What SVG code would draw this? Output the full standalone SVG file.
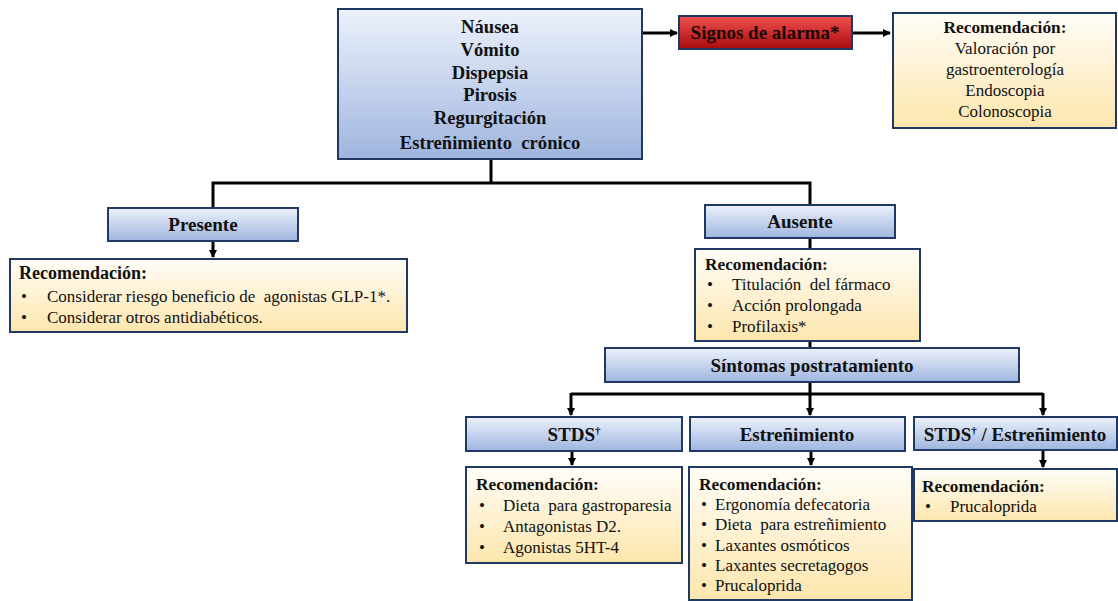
<svg xmlns="http://www.w3.org/2000/svg" width="1118" height="601" viewBox="0 0 1118 601" font-family="'Liberation Serif', 'DejaVu Serif', serif">
<defs>
<linearGradient id="gb" x1="0" y1="0" x2="0" y2="1"><stop offset="0" stop-color="#edf2fb"/><stop offset="1" stop-color="#9fb5df"/></linearGradient>
<linearGradient id="gy" x1="0" y1="0" x2="0" y2="1"><stop offset="0" stop-color="#fffdf8"/><stop offset="1" stop-color="#fde6ad"/></linearGradient>
<linearGradient id="gr" x1="0" y1="0" x2="0" y2="1"><stop offset="0" stop-color="#f05050"/><stop offset="1" stop-color="#a80c0c"/></linearGradient>
<marker id="ah" markerWidth="8" markerHeight="8" refX="7" refY="4" orient="auto" markerUnits="userSpaceOnUse"><path d="M0,0 L8,4 L0,8 z" fill="#000"/></marker>
<style>
.bl{fill:url(#gb);stroke:#1f3864;stroke-width:2}
.yl{fill:url(#gy);stroke:#1f3864;stroke-width:2}
.rd{fill:url(#gr);stroke:#1f3864;stroke-width:2}
text{font-family:'Liberation Serif','DejaVu Serif',serif;fill:#111}
.h{font-weight:bold;font-size:19px;text-anchor:middle}
.m{font-weight:bold;font-size:18.6px;text-anchor:middle}
.r{font-weight:bold;font-size:17.3px}
.b{font-size:17px}
.c{text-anchor:middle}
.ln{stroke:#000;stroke-width:3;fill:none}
.ar{stroke:#000;stroke-width:3;fill:none;marker-end:url(#ah)}
</style>
</defs>
<g id="connectors">
<path class="ar" d="M642,33 H677"/>
<path class="ar" d="M852,33 H890"/>
<path class="ln" d="M491,159 V183 M213,208 V183 H810 V205"/>
<path class="ar" d="M213,241 V257"/>
<path class="ln" d="M810,238 V249 M810,341 V348"/>
<path class="ln" d="M810,382 V394 M571,394 H1043"/>
<path class="ar" d="M571,393 V415"/>
<path class="ar" d="M810,394 V415"/>
<path class="ar" d="M1043,393 V415"/>
<path class="ar" d="M572,451 V465"/>
<path class="ar" d="M811,451 V465"/>
<path class="ar" d="M1043,450 V467"/>
</g>
<g id="main">
<rect class="bl" x="338" y="9" width="304" height="150"/>
<text class="m" x="490" y="33">Náusea</text>
<text class="m" x="490" y="56">Vómito</text>
<text class="m" x="490" y="79">Dispepsia</text>
<text class="m" x="490" y="101">Pirosis</text>
<text class="m" x="490" y="124">Regurgitación</text>
<text class="m" x="490" y="149" xml:space="preserve">Estreñimiento  crónico</text>
</g>
<g id="signos">
<rect class="rd" x="679" y="16" width="173" height="33"/>
<text class="h" x="765" y="39" style="fill:#1a0505">Signos de alarma*</text>
</g>
<g id="rec-alarma">
<rect class="yl" x="893" y="13" width="223" height="115"/>
<text class="r c" x="1005" y="33">Recomendación:</text>
<text class="b c" x="1005" y="54">Valoración por</text>
<text class="b c" x="1005" y="75">gastroenterología</text>
<text class="b c" x="1005" y="96">Endoscopia</text>
<text class="b c" x="1005" y="117">Colonoscopia</text>
</g>
<g id="presente">
<rect class="bl" x="108" y="208" width="190" height="33"/>
<text class="h" x="203" y="231">Presente</text>
</g>
<g id="rec-presente">
<rect class="yl" x="10" y="259" width="397" height="73"/>
<text class="r" x="19" y="279" style="font-size:18px">Recomendación:</text>
<text class="b" x="21" y="302">•</text>
<text class="b" x="47" y="302" xml:space="preserve">Considerar riesgo beneficio de  agonistas GLP-1*.</text>
<text class="b" x="21" y="323">•</text>
<text class="b" x="47" y="323">Considerar otros antidiabéticos.</text>
</g>
<g id="ausente">
<rect class="bl" x="705" y="205" width="190" height="33"/>
<text class="h" x="800" y="228">Ausente</text>
</g>
<g id="rec-ausente">
<rect class="yl" x="695" y="249" width="225" height="92"/>
<text class="r" x="705" y="270">Recomendación:</text>
<text class="b" x="707" y="290">•</text>
<text class="b" x="732" y="290" xml:space="preserve">Titulación  del fármaco</text>
<text class="b" x="707" y="311">•</text>
<text class="b" x="732" y="311">Acción prolongada</text>
<text class="b" x="707" y="332">•</text>
<text class="b" x="732" y="332">Profilaxis*</text>
</g>
<g id="sintomas">
<rect class="bl" x="605" y="348" width="414" height="34"/>
<text class="h" x="812" y="372">Síntomas postratamiento</text>
</g>
<g id="stds">
<rect class="bl" x="466" y="417" width="216" height="34"/>
<text class="h" x="574" y="441">STDS<tspan font-size="11" dy="-7">†</tspan></text>
</g>
<g id="estrenimiento">
<rect class="bl" x="690" y="417" width="215" height="34"/>
<text class="h" x="797" y="441">Estreñimiento</text>
</g>
<g id="stds-estr">
<rect class="bl" x="914" y="417" width="203" height="33"/>
<text class="h" x="1015" y="441">STDS<tspan font-size="11" dy="-7">†</tspan><tspan dy="7"> / Estreñimiento</tspan></text>
</g>
<g id="rec-stds">
<rect class="yl" x="466" y="467" width="216" height="96"/>
<text class="r" x="476" y="490">Recomendación:</text>
<text class="b" x="479" y="511">•</text>
<text class="b" x="503" y="511" xml:space="preserve">Dieta  para gastroparesia</text>
<text class="b" x="479" y="532">•</text>
<text class="b" x="503" y="532">Antagonistas D2.</text>
<text class="b" x="479" y="553">•</text>
<text class="b" x="503" y="553">Agonistas 5HT-4</text>
</g>
<g id="rec-estr">
<rect class="yl" x="689" y="467" width="223" height="133"/>
<text class="r" x="699" y="490">Recomendación:</text>
<text class="b" x="701" y="510">•</text>
<text class="b" x="715" y="510">Ergonomía defecatoria</text>
<text class="b" x="701" y="530">•</text>
<text class="b" x="715" y="530" xml:space="preserve">Dieta  para estreñimiento</text>
<text class="b" x="701" y="551">•</text>
<text class="b" x="715" y="551">Laxantes osmóticos</text>
<text class="b" x="701" y="571">•</text>
<text class="b" x="715" y="571">Laxantes secretagogos</text>
<text class="b" x="701" y="591">•</text>
<text class="b" x="715" y="591">Prucaloprida</text>
</g>
<g id="rec-stds-estr">
<rect class="yl" x="914" y="469" width="203" height="52"/>
<text class="r" x="922" y="492">Recomendación:</text>
<text class="b" x="925" y="512">•</text>
<text class="b" x="950" y="512">Prucaloprida</text>
</g>
</svg>
